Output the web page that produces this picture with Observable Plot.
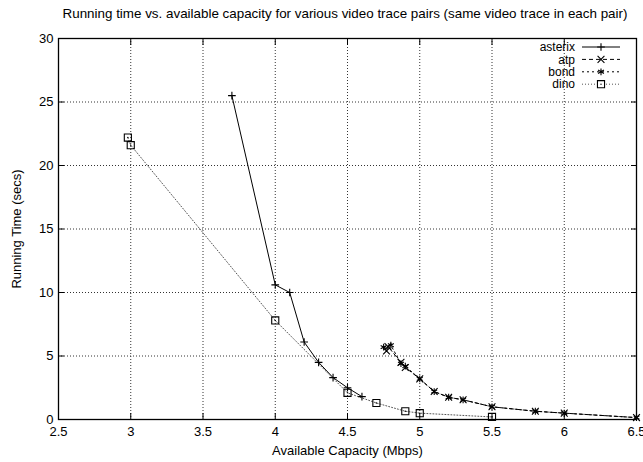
<!DOCTYPE html>
<html><head><meta charset="utf-8">
<script src="https://cdn.jsdelivr.net/npm/d3@7"></script>
<script src="https://cdn.jsdelivr.net/npm/@observablehq/plot@0.6"></script>
<style>
body{margin:0;background:#fff;font-family:"Liberation Sans",Arial,sans-serif;}
#title{width:643px;height:30px;box-sizing:border-box;padding-top:5px;padding-left:47px;line-height:18px;font-size:13.4px;text-align:center;color:#000;white-space:nowrap;}
</style></head><body>
<div id="title">Running time vs. available capacity for various video trace pairs (same video trace in each pair)</div>
<div id="chart"></div>
<script>
const xTicks = [2.5, 3, 3.5, 4, 4.5, 5, 5.5, 6, 6.5];
const yTicks = [0, 5, 10, 15, 20, 25, 30];
const seriesNames = ["asterix", "atp", "bond", "dino"];

const asterixX = [3.7, 4.0, 4.1, 4.2, 4.3, 4.4, 4.5, 4.6];
const asterixY = [25.5, 10.6, 10.0, 6.1, 4.5, 3.3, 2.5, 1.8];

const atpX = [4.77, 4.78, 4.87, 4.9, 5.0, 5.1, 5.2, 5.3, 5.5, 5.8, 6.0, 6.5];
const atpY = [5.4, 5.75, 4.5, 4.1, 3.2, 2.2, 1.75, 1.55, 1.0, 0.65, 0.5, 0.15];

const bondX = [4.75, 4.8, 4.87, 4.9, 5.0, 5.1, 5.2, 5.3, 5.5, 5.8, 6.0, 6.5];
const bondY = [5.7, 5.85, 4.4, 4.2, 3.2, 2.2, 1.75, 1.55, 1.0, 0.65, 0.5, 0.15];

const dinoX = [2.98, 3.0, 4.0, 4.5, 4.7, 4.9, 5.0, 5.5];
const dinoY = [22.2, 21.6, 7.8, 2.1, 1.3, 0.65, 0.5, 0.2];

const toRows = (xs, ys) => xs.map((x, i) => ({x, y: ys[i]}));
const asterix = toRows(asterixX, asterixY);
const atp = toRows(atpX, atpY);
const bond = toRows(bondX, bondY);
const dino = toRows(dinoX, dinoY);

const styles = [
  {data: asterix, dash: null, symbol: "plus", r: 2.6, lineColor: "#000"},
  {data: atp, dash: "4,3", symbol: "times", r: 3.2, lineColor: "#000"},
  {data: bond, dash: "2,3", symbol: "asterisk", r: 3.2, lineColor: "#000"},
  {data: dino, dash: "1,2", symbol: "square", r: 4, lineColor: "#555"}
];

const marks = [
  Plot.gridX(xTicks, {stroke: "#333", strokeOpacity: 1, strokeDasharray: "1,2"}),
  Plot.gridY(yTicks, {stroke: "#333", strokeOpacity: 1, strokeDasharray: "1,2"}),
  Plot.axisX(xTicks, {anchor: "bottom", tickSize: -6, tickPadding: 13, tickFormat: d => String(d),
    label: "Available Capacity (Mbps)", labelAnchor: "center", labelArrow: "none", labelOffset: 35, fontSize: 13}),
  Plot.axisX(xTicks, {anchor: "top", tickSize: -6, tickFormat: () => "", label: null}),
  Plot.axisY(yTicks, {anchor: "left", tickSize: -6, tickPadding: 11, tickFormat: d => String(d),
    label: "Running Time (secs)", labelAnchor: "center", labelArrow: "none", labelOffset: 47, fontSize: 13}),
  Plot.axisY(yTicks, {anchor: "right", tickSize: -6, tickFormat: () => "", label: null})
];
for (const s of styles) {
  marks.push(Plot.line(s.data, {x: "x", y: "y", stroke: s.lineColor, strokeWidth: 1, strokeDasharray: s.dash}));
}
for (const s of styles) {
  marks.push(Plot.dot(s.data, {x: "x", y: "y", symbol: () => s.symbol, stroke: "#000", fill: "none", strokeWidth: 1.1, r: s.r}));
}
marks.push(Plot.dot(dino, {x: "x", y: "y", r: 0.7, fill: "#000", stroke: "none"}));
marks.push(Plot.frame({stroke: "#000", strokeWidth: 1.3}));

const chart = Plot.plot({
  width: 643, height: 432,
  marginTop: 8, marginBottom: 43, marginLeft: 58, marginRight: 7,
  style: {fontFamily: "'Liberation Sans', Arial, sans-serif", fontSize: "12px", background: "#fff", color: "#000", overflow: "visible"},
  x: {domain: [2.5, 6.5]},
  y: {domain: [0, 30]},
  marks
});
document.getElementById("chart").appendChild(chart);

// legend inside the plot, top right
const svg = d3.select(chart);
const leg = svg.append("g").attr("font-family", "'Liberation Sans', Arial, sans-serif").attr("font-size", 12);
const symMap = {plus: d3.symbolPlus, times: d3.symbolTimes, asterisk: d3.symbolAsterisk, square: d3.symbolSquare};
seriesNames.forEach((name, i) => {
  const s = styles[i];
  const cy = 17 + i * 12.4;
  leg.append("text").attr("x", 575).attr("y", cy).attr("dy", "0.35em").attr("text-anchor", "end").attr("fill", "#000").text(name);
  const ln = leg.append("line").attr("x1", 582).attr("x2", 620).attr("y1", cy).attr("y2", cy).attr("stroke", s.lineColor).attr("stroke-width", 1);
  if (s.dash) ln.attr("stroke-dasharray", s.dash);
  leg.append("path").attr("transform", `translate(601,${cy})`).attr("d", d3.symbol(symMap[s.symbol], Math.PI * s.r * s.r)())
    .attr("fill", s.symbol === "square" ? "#fff" : "none").attr("stroke", "#000").attr("stroke-width", 1.1);
  if (s.symbol === "square") leg.append("circle").attr("cx", 601).attr("cy", cy).attr("r", 0.7).attr("fill", "#000");
});
</script></body></html>
